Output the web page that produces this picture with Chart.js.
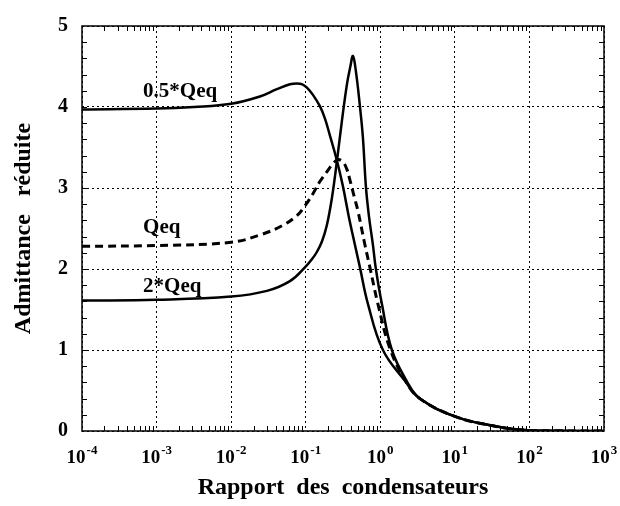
<!DOCTYPE html>
<html lang="fr">
<head>
<meta charset="UTF-8">
<title>Admittance réduite</title>
<script src="https://cdn.jsdelivr.net/npm/chart.js"></script>
<style>
  body { margin: 0; background: #fff; }
  canvas { display: block; }
</style>
</head>
<body>
<canvas id="chart" width="620" height="506"></canvas>
<script>
// Axe des x (échelle log)
const xTicks = [1e-4, 1e-3, 1e-2, 1e-1, 1, 10, 100, 1000];
const xTickExps = ['-4', '-3', '-2', '-1', '0', '1', '2', '3'];

// Courbe 0.5*Qeq
const xHalf = [0.0001, 0.001, 0.00316, 0.01, 0.0243, 0.0411, 0.0614, 0.0762, 0.09, 0.1038, 0.125, 0.1549, 0.1807, 0.2109, 0.262, 0.3157, 0.3796, 0.4567, 0.5333, 0.6826, 1.084, 2.138, 3.388, 10, 29.5, 74, 200, 1000];
const yHalf = [3.97, 3.98, 4.00, 4.04, 4.13, 4.22, 4.28, 4.29, 4.28, 4.24, 4.15, 4.01, 3.86, 3.65, 3.34, 3.02, 2.64, 2.30, 2.02, 1.57, 1.00, 0.62, 0.40, 0.18, 0.07, 0.015, 0.003, 0];

// Courbe Qeq (pointillés)
const xQeq = [0.0001, 0.001, 0.01, 0.0243, 0.0494, 0.0762, 0.0975, 0.125, 0.1549, 0.192, 0.2316, 0.2704, 0.3157, 0.357, 0.391, 0.4567, 0.501, 0.622, 0.726, 0.929, 1.346, 2.203, 3.388, 10, 29.5, 74, 200, 1000];
const yQeq = [2.28, 2.29, 2.33, 2.42, 2.54, 2.66, 2.78, 2.93, 3.08, 3.20, 3.30, 3.35, 3.32, 3.23, 3.10, 2.86, 2.72, 2.30, 2.02, 1.57, 1.02, 0.61, 0.40, 0.18, 0.07, 0.015, 0.003, 0];

// Courbe 2*Qeq
const xDouble = [0.0001, 0.001, 0.01, 0.0302, 0.0614, 0.0975, 0.121, 0.141, 0.165, 0.192, 0.224, 0.262, 0.305, 0.357, 0.397, 0.430, 0.471, 0.533, 0.585, 0.641, 0.703, 0.796, 0.873, 1.05, 1.43, 2.28, 3.388, 10, 29.5, 74, 200, 1000];
const yDouble = [1.61, 1.62, 1.66, 1.73, 1.85, 2.02, 2.12, 2.21, 2.34, 2.54, 2.87, 3.33, 3.82, 4.28, 4.50, 4.63, 4.44, 4.01, 3.62, 3.02, 2.66, 2.30, 2.00, 1.57, 1.00, 0.61, 0.40, 0.18, 0.07, 0.015, 0.003, 0];

const curveNames = ['0.5*Qeq', 'Qeq', '2*Qeq'];

const FONT = '"Liberation Serif", "Times New Roman", serif';

function pts(xs, ys) {
  return xs.map((v, i) => ({ x: v, y: ys[i] }));
}

// traits, cadre, étiquettes 10^n et noms des courbes
const decor = {
  id: 'decor',
  afterDraw(chart) {
    const { ctx, chartArea: a, scales: { x, y } } = chart;
    ctx.save();
    ctx.strokeStyle = '#000';
    ctx.lineWidth = 1;
    for (let d = -4; d < 3; d++) {
      for (let k = 2; k < 10; k++) {
        const px = Math.round(x.getPixelForValue(k * Math.pow(10, d))) + 0.5;
        ctx.beginPath();
        ctx.moveTo(px, a.bottom); ctx.lineTo(px, a.bottom - 5);
        ctx.moveTo(px, a.top); ctx.lineTo(px, a.top + 5);
        ctx.stroke();
      }
    }
    for (let i = 1; i < 25; i++) {
      const py = Math.round(y.getPixelForValue(i * 0.2)) + 0.5;
      ctx.beginPath();
      ctx.moveTo(a.left, py); ctx.lineTo(a.left + 5, py);
      ctx.moveTo(a.right, py); ctx.lineTo(a.right - 5, py);
      ctx.stroke();
    }
    ctx.lineWidth = 1.5;
    ctx.strokeRect(a.left, a.top, a.right - a.left, a.bottom - a.top);

    ctx.fillStyle = '#000';
    ctx.textAlign = 'left';
    ctx.textBaseline = 'alphabetic';
    const baseFont = 'bold 19px ' + FONT;
    const expFont = 'bold 13px ' + FONT;
    xTicks.forEach((v, i) => {
      const px = x.getPixelForValue(v);
      ctx.font = baseFont;
      const wb = ctx.measureText('10').width;
      ctx.font = expFont;
      const we = ctx.measureText(xTickExps[i]).width;
      const x0 = px - (wb + we + 1) / 2;
      ctx.font = baseFont;
      ctx.fillText('10', x0, a.bottom + 32);
      ctx.font = expFont;
      ctx.fillText(xTickExps[i], x0 + wb + 1, a.bottom + 23);
    });

    // noms des courbes, placés en coordonnées du graphique
    const anchors = [[6.6e-4, 4.12], [6.6e-4, 2.45], [6.6e-4, 1.72]];
    ctx.font = 'bold 21px ' + FONT;
    curveNames.forEach((name, i) => {
      ctx.fillText(name, x.getPixelForValue(anchors[i][0]), y.getPixelForValue(anchors[i][1]));
    });
    ctx.restore();
  }
};

const lineBase = {
  borderColor: '#000',
  pointRadius: 0,
  fill: false,
  tension: 0.4
};

new Chart(document.getElementById('chart'), {
  type: 'line',
  data: {
    datasets: [
      { ...lineBase, label: curveNames[0], data: pts(xHalf, yHalf), borderWidth: 2.5 },
      { ...lineBase, label: curveNames[1], data: pts(xQeq, yQeq), borderWidth: 3, borderDash: [8, 5] },
      { ...lineBase, label: curveNames[2], data: pts(xDouble, yDouble), borderWidth: 2.5 }
    ]
  },
  options: {
    responsive: false,
    animation: false,
    layout: { padding: { top: 15, right: 16, left: 0, bottom: 0 } },
    plugins: { legend: { display: false }, tooltip: { enabled: false } },
    scales: {
      x: {
        type: 'logarithmic',
        min: 1e-4,
        max: 1000,
        afterBuildTicks(scale) { scale.ticks = xTicks.map(v => ({ value: v })); },
        afterFit(scale) { scale.height = 75; },
        ticks: { display: false },
        grid: { color: '#000', lineWidth: 1, drawTicks: false },
        border: { display: false, dash: [2, 3] },
        title: {
          display: true,
          text: 'Rapport  des  condensateurs',
          color: '#000',
          font: { family: FONT, size: 24, weight: 'bold' },
          padding: { bottom: 4, top: 0 }
        }
      },
      y: {
        min: 0,
        max: 5,
        afterFit(scale) { scale.width = 82; },
        ticks: {
          stepSize: 1,
          color: '#000',
          padding: 14,
          font: { family: FONT, size: 20, weight: 'bold' }
        },
        grid: { color: '#000', lineWidth: 1, drawTicks: false },
        border: { display: false, dash: [2, 3] },
        title: {
          display: true,
          text: 'Admittance   réduite',
          color: '#000',
          font: { family: FONT, size: 24, weight: 'bold' },
          padding: { top: 9, bottom: 0 }
        }
      }
    }
  },
  plugins: [decor]
});
</script>
</body>
</html>
